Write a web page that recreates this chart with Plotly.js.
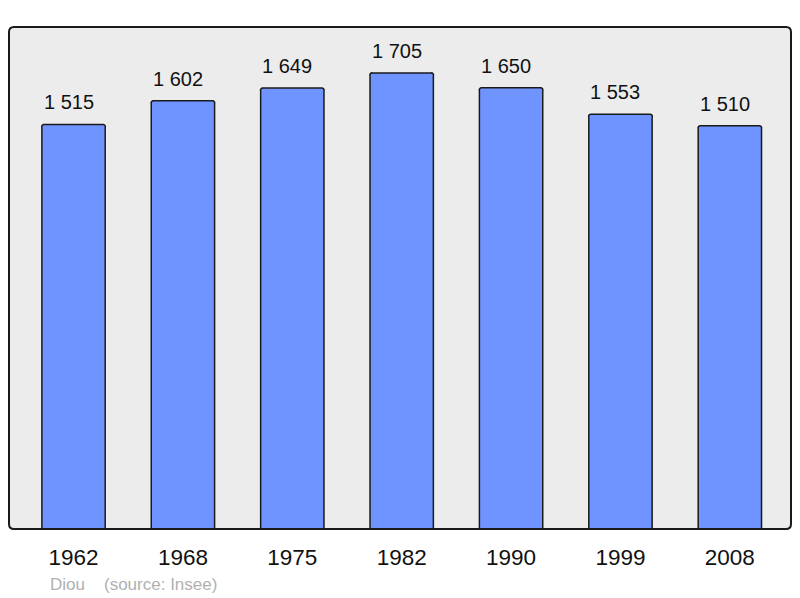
<!DOCTYPE html>
<html>
<head>
<meta charset="utf-8">
<script src="https://cdn.plot.ly/plotly-3.0.1.min.js"></script>
<style>
  html, body { margin: 0; padding: 0; background: #fff; }
  #chart { width: 800px; height: 598px; }
</style>
</head>
<body>
<div id="chart"></div>
<script>
// population by census year
var years = ['1962', '1968', '1975', '1982', '1990', '1999', '2008'];
var population = [1515, 1602, 1649, 1705, 1650, 1553, 1510];

var author = 'Diou';
var source = '(source: Insee)';

function fmt(n) {
    // thousands separated by a space, like the original
    var s = String(n);
    return s.length > 3 ? s.slice(0, s.length - 3) + ' ' + s.slice(-3) : s;
}

var xs = years.map(function (y, i) { return i; });

var data = [{
    type: 'bar',
    x: xs,
    y: population,
    width: 0.579,
    marker: {
        color: '#7094ff',
        line: { color: '#1a1a1a', width: 1.5 },
        cornerradius: 3
    },
    hoverinfo: 'none'
}];

var annotations = population.map(function (v, i) {
    return {
        x: i, y: v, xref: 'x', yref: 'y',
        text: fmt(v),
        showarrow: false,
        yanchor: 'bottom',
        yshift: 9,
        xshift: -5,
        font: { family: 'Liberation Sans, Arial, sans-serif', size: 20, color: '#111' }
    };
});

annotations.push({
    xref: 'paper', yref: 'paper', x: (48 - 9) / 782, y: -0.11,
    xanchor: 'left', yanchor: 'middle', showarrow: false,
    text: author,
    font: { family: 'Liberation Sans, Arial, sans-serif', size: 17, color: '#b0b0b0' }
});
annotations.push({
    xref: 'paper', yref: 'paper', x: (102 - 9) / 782, y: -0.11,
    xanchor: 'left', yanchor: 'middle', showarrow: false,
    text: source,
    font: { family: 'Liberation Sans, Arial, sans-serif', size: 17, color: '#b0b0b0' }
});

// rounded frame around the plot area, in paper fractions
var rx = 5 / 782, ry = 5 / 502;
var frame = 'M ' + rx + ' 0 L ' + (1 - rx) + ' 0 Q 1 0 1 ' + ry +
    ' L 1 ' + (1 - ry) + ' Q 1 1 ' + (1 - rx) + ' 1' +
    ' L ' + rx + ' 1 Q 0 1 0 ' + (1 - ry) +
    ' L 0 ' + ry + ' Q 0 0 ' + rx + ' 0 Z';

var layout = {
    width: 800,
    height: 598,
    margin: { l: 9, r: 9, t: 27, b: 69 },
    paper_bgcolor: '#ffffff',
    plot_bgcolor: 'rgba(0,0,0,0)',
    showlegend: false,
    bargap: 0,
    xaxis: {
        range: [-0.59, 6.559],
        tickvals: xs,
        ticktext: years,
        showgrid: false,
        zeroline: false,
        showline: false,
        ticks: '',
        ticklabelstandoff: 12,
        tickfont: { family: 'Liberation Sans, Arial, sans-serif', size: 22.5, color: '#111' },
        fixedrange: true
    },
    yaxis: {
        range: [25, 1874],
        showgrid: false,
        zeroline: false,
        showline: false,
        showticklabels: false,
        ticks: '',
        fixedrange: true
    },
    shapes: [{
        type: 'path',
        xref: 'paper', yref: 'paper',
        path: frame,
        fillcolor: '#ececec',
        line: { width: 0 },
        layer: 'below'
    }, {
        type: 'path',
        xref: 'paper', yref: 'paper',
        path: frame,
        line: { color: '#1a1a1a', width: 2 },
        layer: 'above'
    }],
    annotations: annotations
};

Plotly.newPlot('chart', data, layout, { staticPlot: true, displayModeBar: false });
</script>
</body>
</html>
